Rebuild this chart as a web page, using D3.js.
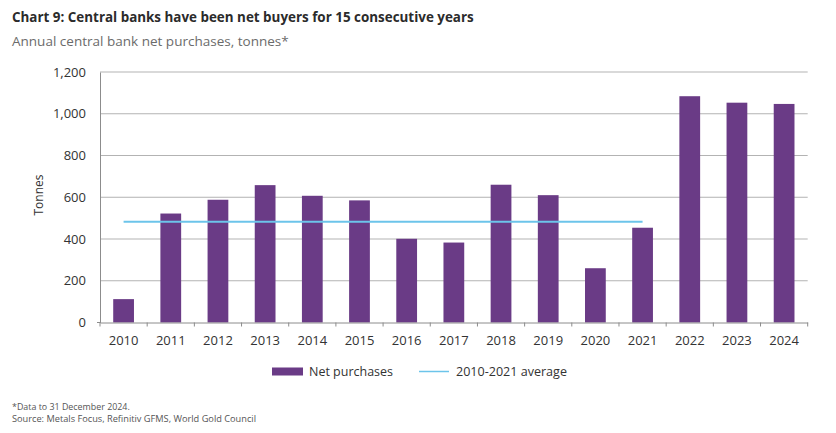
<!DOCTYPE html>
<html>
<head>
<meta charset="utf-8">
<script src="https://cdn.jsdelivr.net/npm/d3@7"></script>
<style>
  html, body { margin: 0; padding: 0; background: #ffffff; }
  svg { display: block; font-family: "Open Sans", "Noto Sans", sans-serif; }
</style>
</head>
<body>
<svg id="chart" width="836" height="433"></svg>
<script>
// ---- Data ----
const years = ["2010","2011","2012","2013","2014","2015","2016","2017","2018","2019","2020","2021","2022","2023","2024"];
const netPurchases = [112, 522, 588, 658, 607, 585, 401, 383, 660, 610, 260, 454, 1084, 1053, 1047];
const averageYears = ["2010", "2021"];
const averageValue = [483, 483];
const yTicks = [0, 200, 400, 600, 800, 1000, 1200];
const titleText = "Chart 9: Central banks have been net buyers for 15 consecutive years";
const subtitleText = "Annual central bank net purchases, tonnes*";
const yAxisTitle = "Tonnes";
const legendLabels = ["Net purchases", "2010-2021 average"];
const footnotes = ["*Data to 31 December 2024.", "Source: Metals Focus, Refinitiv GFMS, World Gold Council"];

// ---- Layout ----
const svg = d3.select("#chart");
const plotLeft = 100, plotRight = 807.7, plotTop = 72, plotBottom = 322.5;
const barColor = "#6a3b86";
const lineColor = "#6cc4ea";
const gridColor = "#b3b3b3";
const axisColor = "#8c8c8c";
const textColor = "#333333";

const x = d3.scaleBand().domain(years).range([plotLeft, plotRight]).paddingInner(0.56).paddingOuter(0.28);
const y = d3.scaleLinear().domain([0, 1200]).range([plotBottom, plotTop]);

function fit(sel, target) {
  const w = sel.node().getComputedTextLength();
  const fs = parseFloat(sel.attr("font-size"));
  if (w > 0) sel.attr("font-size", (fs * target / w).toFixed(2));
}

// Title & subtitle
fit(svg.append("text").attr("x", 12).attr("y", 22).attr("font-size", 14).attr("font-weight", "bold")
  .attr("fill", "#2b2b2b").text(titleText), 462);
fit(svg.append("text").attr("x", 12).attr("y", 46).attr("font-size", 14)
  .attr("fill", "#6b6b6b").text(subtitleText), 277);

// Gridlines
svg.append("g").selectAll("line.grid").data(yTicks.filter(d => d > 0)).join("line")
  .attr("class", "grid")
  .attr("x1", plotLeft).attr("x2", plotRight)
  .attr("y1", d => y(d)).attr("y2", d => y(d))
  .attr("stroke", gridColor).attr("stroke-width", 1);

// Y axis
const yAxis = svg.append("g").attr("transform", `translate(${plotLeft},0)`)
  .call(d3.axisLeft(y).tickValues(yTicks).tickFormat(d3.format(",")).tickSize(0).tickPadding(14));
yAxis.select(".domain").attr("stroke", axisColor);
yAxis.selectAll("text").attr("font-size", 13).attr("fill", textColor).attr("font-family", "Open Sans, sans-serif");
yAxis.append("line").attr("x1", -3).attr("x2", 0).attr("y1", y(0)).attr("y2", y(0)).attr("stroke", axisColor);

// Bars
svg.append("g").selectAll("rect").data(years.map((yr, i) => ({ yr, v: netPurchases[i] }))).join("rect")
  .attr("x", d => x(d.yr))
  .attr("width", x.bandwidth())
  .attr("y", d => y(d.v))
  .attr("height", d => y(0) - y(d.v))
  .attr("fill", barColor);

// Average line
const line = d3.line().x(d => x(d.yr) + x.bandwidth() / 2).y(d => y(d.v));
svg.append("path")
  .datum(averageYears.map((yr, i) => ({ yr, v: averageValue[i] })))
  .attr("d", line)
  .attr("fill", "none").attr("stroke", lineColor).attr("stroke-width", 2);

// X axis
const xAxis = svg.append("g").attr("transform", `translate(0,${y(0)})`)
  .call(d3.axisBottom(x).tickSize(0).tickPadding(13));
xAxis.select(".domain").attr("stroke", axisColor);
xAxis.selectAll("text").attr("font-size", 13).attr("fill", textColor).attr("font-family", "Open Sans, sans-serif");
const step = x.step();
const bounds = years.map(yr => x(yr) + x.bandwidth() / 2 - step / 2).concat([plotRight]);
xAxis.selectAll("line.bt").data(bounds).join("line").attr("class", "bt")
  .attr("x1", d => d).attr("x2", d => d).attr("y1", 0).attr("y2", 4)
  .attr("stroke", axisColor);

// Y axis title
fit(svg.append("text").attr("transform", `translate(43,195) rotate(-90)`)
  .attr("text-anchor", "middle").attr("font-size", 12.5).attr("fill", textColor).text(yAxisTitle), 41);

// Legend
svg.append("rect").attr("x", 272).attr("y", 367.5).attr("width", 31).attr("height", 8).attr("fill", barColor);
fit(svg.append("text").attr("x", 309).attr("y", 376).attr("font-size", 12.5).attr("fill", textColor).text(legendLabels[0]), 84);
svg.append("line").attr("x1", 419).attr("x2", 449).attr("y1", 371.5).attr("y2", 371.5).attr("stroke", lineColor).attr("stroke-width", 1.5);
fit(svg.append("text").attr("x", 456).attr("y", 376).attr("font-size", 12.5).attr("fill", textColor).text(legendLabels[1]), 111);

// Footnotes
fit(svg.append("text").attr("x", 12).attr("y", 410).attr("font-size", 9).attr("fill", "#555").text(footnotes[0]), 118);
fit(svg.append("text").attr("x", 12).attr("y", 422).attr("font-size", 9).attr("fill", "#555").text(footnotes[1]), 244);
</script>
</body>
</html>
